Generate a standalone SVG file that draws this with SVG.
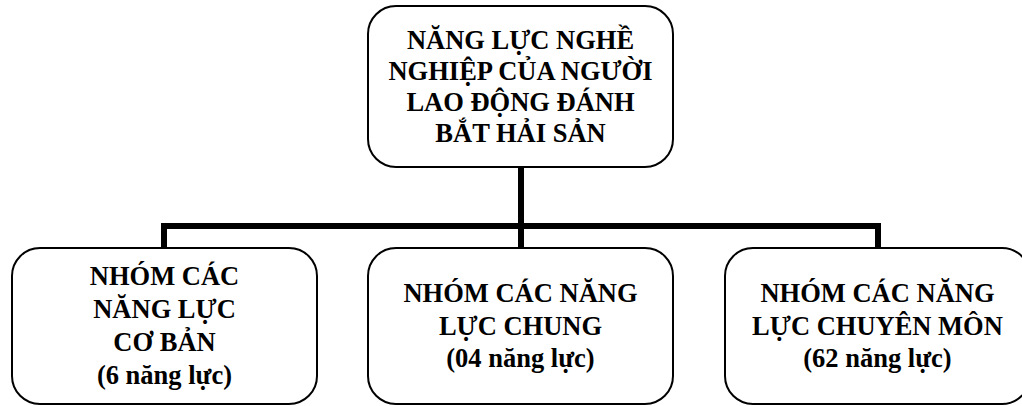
<svg xmlns="http://www.w3.org/2000/svg" width="1022" height="406" viewBox="0 0 1022 406">
<style>
.box{fill:#fff;stroke:#000;stroke-width:2}
.t{font-family:"Liberation Serif","Times New Roman",serif;font-weight:bold;font-size:26.5px;fill:#000;text-anchor:middle}
.c{fill:#000;stroke:none}
</style>
<rect width="1022" height="406" fill="#fff"/>
<g id="connectors">
<rect class="c" x="518" y="167" width="6" height="62"/>
<rect class="c" x="161" y="223" width="720" height="6"/>
<rect class="c" x="161" y="223" width="6" height="26"/>
<rect class="c" x="518" y="223" width="6" height="26"/>
<rect class="c" x="875" y="223" width="6" height="26"/>
</g>
<g id="root">
<rect class="box" x="368" y="6" width="305" height="161" rx="28" ry="28"/>
<text class="t" x="520.5" y="49">NĂNG LỰC NGHỀ</text>
<text class="t" x="520.5" y="80">NGHIỆP CỦA NGƯỜI</text>
<text class="t" x="520.5" y="111">LAO ĐỘNG ĐÁNH</text>
<text class="t" x="520.5" y="142">BẮT HẢI SẢN</text>
</g>
<g id="basic">
<rect class="box" x="12" y="248" width="305" height="156" rx="28" ry="28"/>
<text class="t" x="164.5" y="285">NHÓM CÁC</text>
<text class="t" x="164.5" y="318">NĂNG LỰC</text>
<text class="t" x="164.5" y="351">CƠ BẢN</text>
<text class="t" x="164.5" y="384">(6 năng lực)</text>
</g>
<g id="general">
<rect class="box" x="368" y="248" width="305" height="156" rx="28" ry="28"/>
<text class="t" x="520.5" y="302">NHÓM CÁC NĂNG</text>
<text class="t" x="520.5" y="335">LỰC CHUNG</text>
<text class="t" x="520.5" y="367">(04 năng lực)</text>
</g>
<g id="specialized">
<rect class="box" x="725" y="248" width="305" height="156" rx="28" ry="28"/>
<text class="t" x="877.5" y="302">NHÓM CÁC NĂNG</text>
<text class="t" x="877.5" y="335">LỰC CHUYÊN MÔN</text>
<text class="t" x="877.5" y="367">(62 năng lực)</text>
</g>
</svg>
